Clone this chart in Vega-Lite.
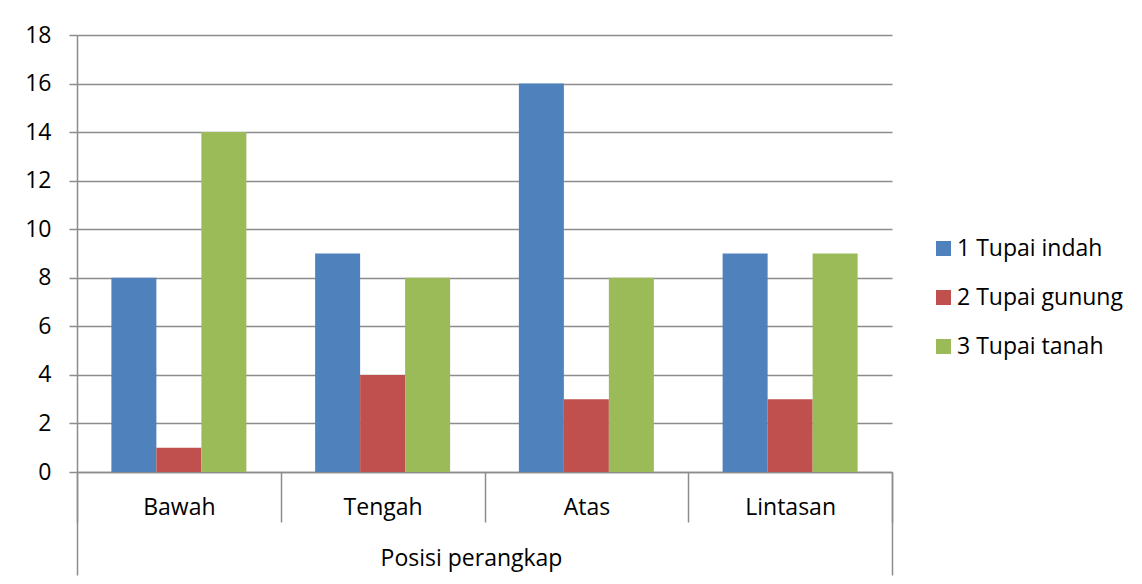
{
  "$schema": "https://vega.github.io/schema/vega-lite/v6.json",
  "autosize": {"type": "none"},
  "width": 815,
  "height": 437,
  "padding": {"left": 77, "top": 35, "right": 250, "bottom": 112},
  "background": "white",
  "config": {
    "font": "Open Sans",
    "view": {"stroke": null},
    "axis": {"labelColor": "#000000", "titleColor": "#000000", "labelFont": "Open Sans", "titleFont": "Open Sans"}
  },
  "layer": [
    {
      "data": {
        "values": [
          {"posisi": "Bawah", "spesies": "1 Tupai indah", "jumlah": 8},
          {"posisi": "Bawah", "spesies": "2 Tupai gunung", "jumlah": 1},
          {"posisi": "Bawah", "spesies": "3 Tupai tanah", "jumlah": 14},
          {"posisi": "Tengah", "spesies": "1 Tupai indah", "jumlah": 9},
          {"posisi": "Tengah", "spesies": "2 Tupai gunung", "jumlah": 4},
          {"posisi": "Tengah", "spesies": "3 Tupai tanah", "jumlah": 8},
          {"posisi": "Atas", "spesies": "1 Tupai indah", "jumlah": 16},
          {"posisi": "Atas", "spesies": "2 Tupai gunung", "jumlah": 3},
          {"posisi": "Atas", "spesies": "3 Tupai tanah", "jumlah": 8},
          {"posisi": "Lintasan", "spesies": "1 Tupai indah", "jumlah": 9},
          {"posisi": "Lintasan", "spesies": "2 Tupai gunung", "jumlah": 3},
          {"posisi": "Lintasan", "spesies": "3 Tupai tanah", "jumlah": 9}
        ]
      },
      "mark": {"type": "bar"},
      "encoding": {
        "x": {
          "field": "posisi",
          "type": "nominal",
          "sort": ["Bawah", "Tengah", "Atas", "Lintasan"],
          "scale": {"paddingInner": 0, "paddingOuter": 0},
          "axis": {
            "orient": "bottom",
            "title": null,
            "labelAngle": 0,
            "labelFontSize": 23,
            "labelBaseline": "middle",
            "labelPadding": -15,
            "tickBand": "extent",
            "tickSize": 50,
            "tickColor": "#8c8c8c",
            "tickWidth": 1.5,
            "domainColor": "#8c8c8c",
            "domainWidth": 1.5,
            "grid": false,
            "offset": 0
          }
        },
        "xOffset": {
          "field": "spesies",
          "type": "nominal",
          "scale": {"paddingInner": 0, "paddingOuter": 0.764}
        },
        "y": {
          "field": "jumlah",
          "type": "quantitative",
          "scale": {"domain": [0, 18], "nice": false},
          "axis": {
            "title": null,
            "values": [0, 2, 4, 6, 8, 10, 12, 14, 16, 18],
            "labelFontSize": 23,
            "labelPadding": 18,
            "tickSize": 8,
            "tickColor": "#8c8c8c",
            "tickWidth": 1.5,
            "domainColor": "#8c8c8c",
            "domainWidth": 1.5,
            "grid": true,
            "gridColor": "#8c8c8c",
            "gridWidth": 1.5
          }
        },
        "color": {
          "field": "spesies",
          "type": "nominal",
          "scale": {
            "domain": ["1 Tupai indah", "2 Tupai gunung", "3 Tupai tanah"],
            "range": ["#4F81BD", "#C0504D", "#9BBB59"]
          },
          "legend": {
            "title": null,
            "orient": "none",
            "legendX": 855,
            "legendY": 202,
            "symbolType": "square",
            "symbolSize": 225,
            "symbolStrokeWidth": 0,
            "labelFontSize": 23,
            "labelOffset": 2,
            "labelLimit": 400,
            "rowPadding": 25,
            "labelColor": "#000000",
            "labelFont": "Open Sans"
          }
        }
      }
    },
    {
      "data": {"values": [{"p": 0}, {"p": 4}]},
      "mark": {"type": "rule", "opacity": 0},
      "encoding": {
        "x": {
          "field": "p",
          "type": "quantitative",
          "scale": {"domain": [0, 4], "nice": false},
          "axis": {
            "orient": "bottom",
            "values": [0, 4],
            "labels": false,
            "domain": false,
            "grid": false,
            "tickSize": 103,
            "tickColor": "#8c8c8c",
            "tickWidth": 1.5,
            "offset": 0,
            "title": "Posisi perangkap",
            "titleFontSize": 23,
            "titleFontWeight": "normal",
            "titleBaseline": "middle",
            "titleY": 86,
            "titleX": 394
          }
        }
      }
    }
  ],
  "resolve": {"scale": {"x": "independent"}, "axis": {"x": "independent"}}
}
